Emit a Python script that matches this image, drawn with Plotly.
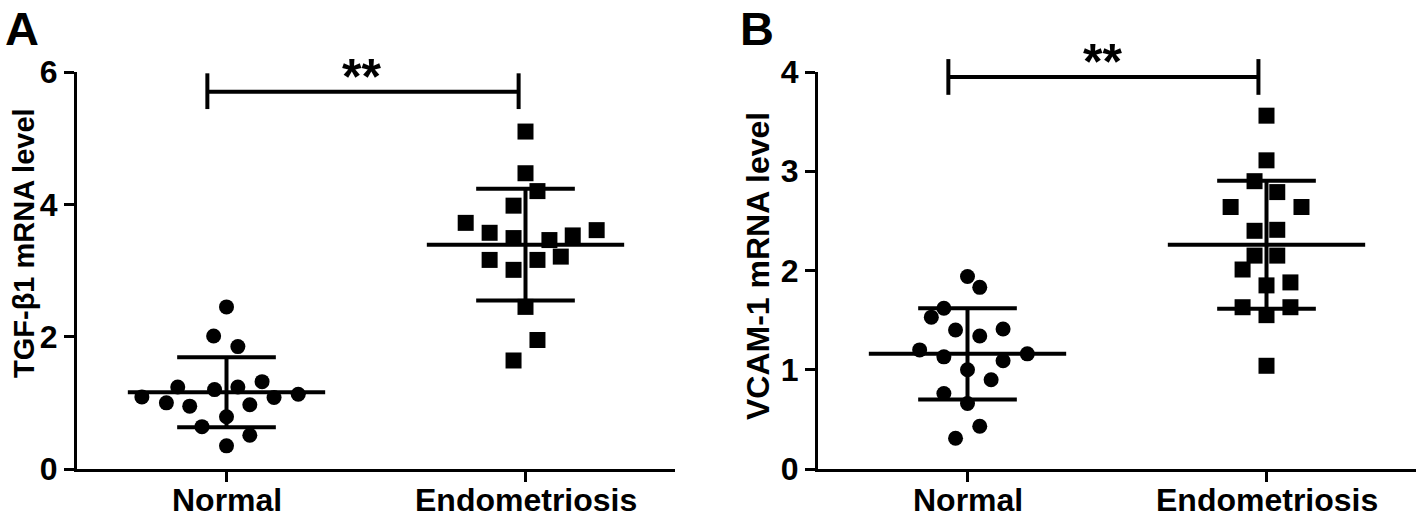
import plotly.graph_objects as go

# ---------------- data ----------------
categories = ["Normal", "Endometriosis"]

tgf_normal = [2.45, 2.01, 1.85, 1.24, 1.20, 1.24, 1.32, 1.09, 1.00, 0.95, 0.97, 1.08, 1.13, 0.79, 0.64, 0.51, 0.35]
tgf_endo = [5.10, 4.47, 4.20, 3.98, 3.72, 3.57, 3.49, 3.46, 3.53, 3.61, 3.16, 3.16, 3.21, 3.01, 2.45, 1.95, 1.64]
vcam_normal = [1.94, 1.83, 1.62, 1.53, 1.40, 1.34, 1.41, 1.20, 1.13, 1.09, 1.16, 1.00, 0.90, 0.76, 0.66, 0.43, 0.31]
vcam_endo = [3.56, 3.11, 2.90, 2.79, 2.64, 2.64, 2.40, 2.41, 2.15, 2.15, 2.01, 1.85, 1.88, 1.63, 1.63, 1.55, 1.04]

# scatter (jitter) offsets within each category, in category units
tgf_normal_dx = [0, -0.043, 0.038, -0.163, -0.04, 0.038, 0.119, -0.283, -0.201, -0.123, 0.078, 0.159, 0.240, 0, -0.082, 0.078, 0]
tgf_endo_dx = [0, 0, 0.04, -0.04, -0.2, -0.12, -0.04, 0.08, 0.158, 0.238, -0.12, 0.04, 0.118, -0.04, 0, 0.04, -0.04]
vcam_normal_dx = [0, 0.041, -0.079, -0.121, -0.04, 0.041, 0.119, -0.16, -0.079, 0.119, 0.2, 0, 0.079, -0.079, 0, 0.041, -0.04]
vcam_endo_dx = [0, 0, -0.04, 0.036, -0.12, 0.117, -0.04, 0.036, -0.04, 0.036, -0.08, 0, 0.08, -0.08, 0.08, 0, 0]

# mean and SD
tgf_mean = [1.16, 3.39]
tgf_sd = [0.53, 0.845]
vcam_mean = [1.16, 2.26]
vcam_sd = [0.46, 0.645]

tgf_ticks = [0, 2, 4, 6]
vcam_ticks = [0, 1, 2, 3, 4]
sig_label = "**"

# ---------------- layout geometry ----------------
W, H = 1418, 517
XDOM_A = [77 / W, 675 / W]
XDOM_B = [818 / W, 1416 / W]
YDOM = [1 - 469 / H, 1 - 72 / H]
YMAX_A, YMAX_B = 6, 4
FONT = "Liberation Sans, Arial, sans-serif"


def ypaper(v, ymax):
    return YDOM[0] + v / ymax * (YDOM[1] - YDOM[0])


fig = go.Figure()


def add_group(vals, dx, idx, mean, sd, symbol, size, xa, ya):
    fig.add_trace(go.Scatter(
        x=[idx + d for d in dx], y=vals, mode="markers",
        marker=dict(symbol=symbol, size=size, color="black", line=dict(width=0)),
        xaxis=xa, yaxis=ya, showlegend=False, hoverinfo="y"))
    hw, cw = 0.33, 0.165
    xs = [idx - hw, idx + hw, None,
          idx, idx, None,
          idx - cw, idx + cw, None,
          idx - cw, idx + cw]
    ys = [mean, mean, None,
          mean - sd, mean + sd, None,
          mean + sd, mean + sd, None,
          mean - sd, mean - sd]
    fig.add_trace(go.Scatter(
        x=xs, y=ys, mode="lines", line=dict(color="black", width=4),
        xaxis=xa, yaxis=ya, showlegend=False, hoverinfo="skip"))


add_group(tgf_normal, tgf_normal_dx, 0, tgf_mean[0], tgf_sd[0], "circle", 15, "x", "y")
add_group(tgf_endo, tgf_endo_dx, 1, tgf_mean[1], tgf_sd[1], "square", 16, "x", "y")
add_group(vcam_normal, vcam_normal_dx, 0, vcam_mean[0], vcam_sd[0], "circle", 15, "x2", "y2")
add_group(vcam_endo, vcam_endo_dx, 1, vcam_mean[1], vcam_sd[1], "square", 16, "x2", "y2")

axis_common = dict(
    showline=True, linecolor="black", linewidth=3, ticks="outside",
    tickwidth=3, ticklen=10, tickcolor="black", showgrid=False, zeroline=False,
    automargin=False,
    tickfont=dict(family=FONT, size=32, color="black", weight="bold"),
)

fig.update_layout(
    width=W, height=H, autosize=False,
    margin=dict(l=0, r=0, t=0, b=0, autoexpand=False),
    paper_bgcolor="white", plot_bgcolor="white",
    xaxis=dict(domain=XDOM_A, range=[-0.5, 1.5], tickvals=[0, 1], ticktext=categories,
               showticklabels=False, anchor="y", **axis_common),
    yaxis=dict(domain=YDOM, range=[0, YMAX_A], tickvals=tgf_ticks, anchor="x",
               ticklabelstandoff=0, **axis_common),
    xaxis2=dict(domain=XDOM_B, range=[-0.5, 1.5], tickvals=[0, 1], ticktext=categories,
                showticklabels=False, anchor="y2", **axis_common),
    yaxis2=dict(domain=YDOM, range=[0, YMAX_B], tickvals=vcam_ticks, anchor="x2",
                ticklabelstandoff=0, **axis_common),
)

# category labels placed under each tick
for xref in ("x", "x2"):
    for i, cat in enumerate(categories):
        fig.add_annotation(x=i, y=1 - 480 / H, xref=xref, yref="paper", text=cat,
                           showarrow=False, xanchor="center", yanchor="top",
                           font=dict(family=FONT, size=32, color="black", weight="bold"))

# significance brackets
def bracket(xref, x0, x1, yv, ylo, yhi, ymax):
    line = dict(color="black", width=4)
    fig.add_shape(type="line", xref=xref, yref="paper", x0=x0, x1=x1,
                  y0=ypaper(yv, ymax), y1=ypaper(yv, ymax), line=line)
    for xx in (x0, x1):
        fig.add_shape(type="line", xref=xref, yref="paper", x0=xx, x1=xx,
                      y0=ypaper(ylo, ymax), y1=ypaper(yhi, ymax), line=line)


bracket("x", -0.064, 0.977, 5.70, 5.44, 5.98, YMAX_A)
bracket("x2", -0.064, 0.973, 3.95, 3.77, 4.13, YMAX_B)

fig.add_annotation(x=0.45, y=ypaper(5.92, YMAX_A), xref="x", yref="paper", text=sig_label,
                   showarrow=False, yanchor="middle",
                   font=dict(family=FONT, size=50, color="black", weight="bold"))
fig.add_annotation(x=0.45, y=ypaper(4.10, YMAX_B), xref="x2", yref="paper", text=sig_label,
                   showarrow=False, yanchor="middle",
                   font=dict(family=FONT, size=50, color="black", weight="bold"))

# axis titles
fig.add_annotation(x=24 / W, y=1 - 243 / H, xref="paper", yref="paper",
                   text="TGF-β1 mRNA level", textangle=-90, showarrow=False,
                   xanchor="center", yanchor="middle",
                   font=dict(family=FONT, size=29, color="black", weight="bold"))
fig.add_annotation(x=758 / W, y=1 - 266 / H, xref="paper", yref="paper",
                   text="VCAM-1 mRNA level", textangle=-90, showarrow=False,
                   xanchor="center", yanchor="middle",
                   font=dict(family=FONT, size=32, color="black", weight="bold"))

# panel letters
fig.add_annotation(x=22 / W, y=1, xref="paper", yref="paper", text="A",
                   showarrow=False, xanchor="center", yanchor="top",
                   font=dict(family=FONT, size=47, color="black", weight="bold"))
fig.add_annotation(x=757 / W, y=1, xref="paper", yref="paper", text="B",
                   showarrow=False, xanchor="center", yanchor="top",
                   font=dict(family=FONT, size=47, color="black", weight="bold"))

fig.write_html("out.html", config={"displayModeBar": False},
               post_script="document.body.style.margin='0';document.body.style.overflow='hidden';")
